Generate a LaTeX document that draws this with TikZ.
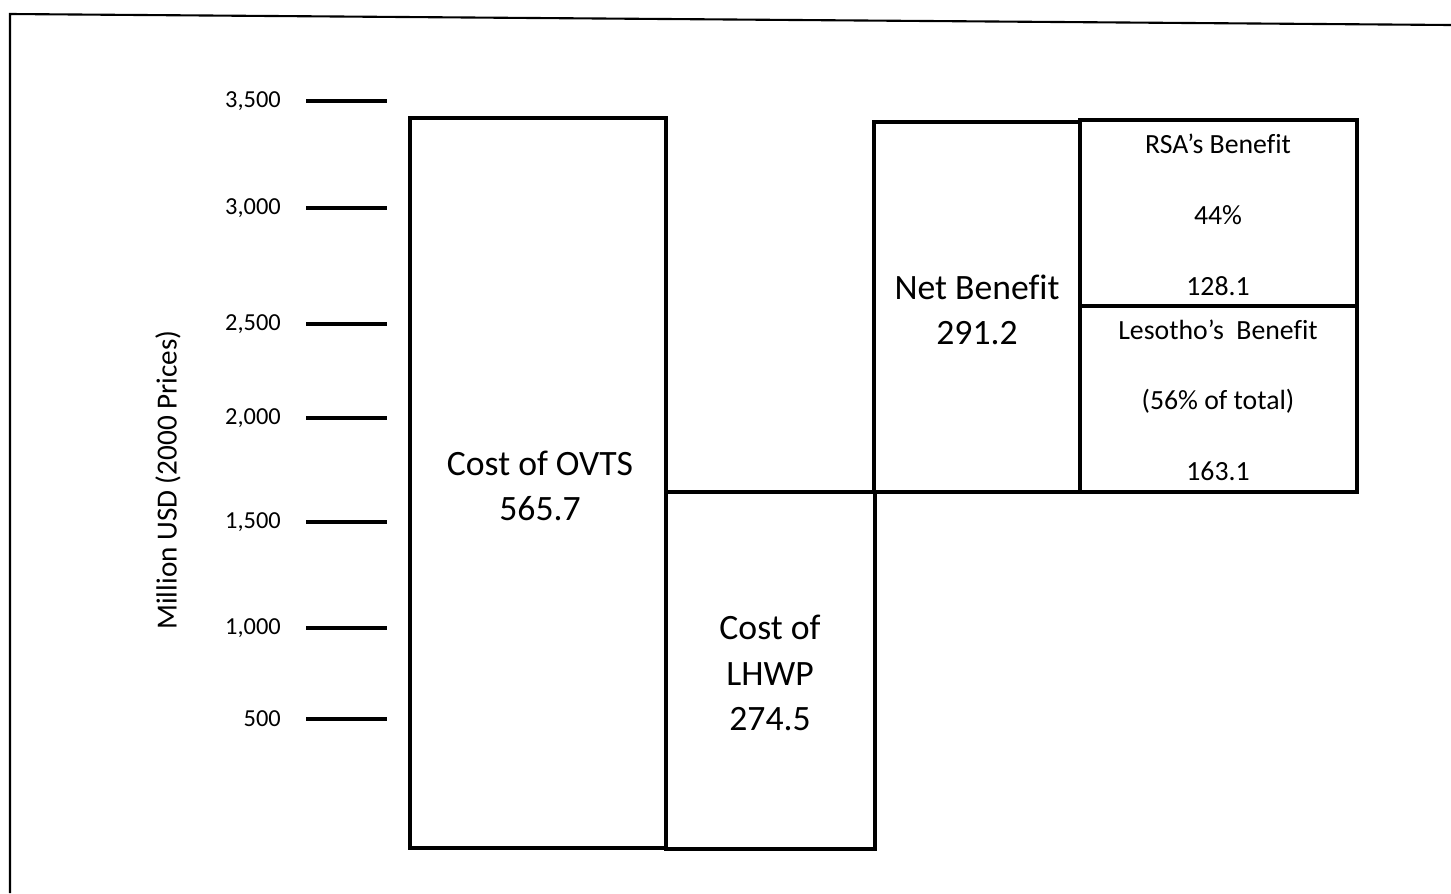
\documentclass[tikz,border=0pt]{standalone}
\usepackage{fontspec}
\setmainfont{Carlito}[Ligatures=NoCommon]
\usetikzlibrary{calc}

\tikzset{
  boxline/.style={line width=2.3pt},
  tickline/.style={line width=2.8pt},
  bigtext/.style={font=\fontsize{20.3}{26}\selectfont, align=center},
  smalltext/.style={font=\fontsize{15.8}{19}\selectfont},
  ticktext/.style={font=\fontsize{13.9}{16}\selectfont, anchor=east}
}

\begin{document}
\begin{tikzpicture}[x=0.02cm,y=-0.02cm]
        \useasboundingbox (0,0) rectangle (1451,893);

        % Frame
        \coordinate (FL) at (10,893);
        \coordinate (FT) at (10,14);
        \coordinate (FR) at (1451,25);
        \draw[line width=1.2pt] (FL) -- (FT) -- (FR);

        % Axis ticks
        \foreach \y/\v [count=\i] in {101/{3,500},208/{3,000},324/{2,500},418/{2,000},522/{1,500},628/{1,000},719/500}
        {
            \draw[tickline] (306,\y) -- (387,\y);
            \node[ticktext] (tick\i) at (287,\y) {\v};
        }

        % Axis label
        \node[rotate=90, font=\fontsize{16.6}{20}\selectfont] (ylab) at (168,480) {Million USD (2000 Prices)};

        % Cost of OVTS
        \coordinate (A) at (410,118);
        \coordinate (B) at (666,848);
        \draw[boxline] (A) rectangle (B);
        \node[bigtext] (ovts) at (540,486) {Cost of OVTS\\565.7};

        % Cost of LHWP
        \coordinate (C) at (666,492);
        \coordinate (D) at (875,849);
        \draw[boxline] (C) rectangle (D);
        \node[bigtext] (lhwp) at (770,673) {Cost of\\LHWP\\274.5};

        % Net Benefit
        \coordinate (E) at (874,122);
        \coordinate (F) at (1080,492);
        \draw[boxline] (E) rectangle (F);
        \node[bigtext] (net) at (977,310) {Net Benefit\\291.2};

        % RSA's Benefit
        \coordinate (G) at (1080,120);
        \coordinate (H) at (1357,306);
        \draw[boxline] (G) rectangle (H);
        \node[smalltext] (rsa) at (1218,144) {RSA’s Benefit};
        \node[smalltext] (rsap) at (1218,215) {44\%};
        \node[smalltext] (rsav) at (1218,286) {128.1};

        % Lesotho's Benefit
        \draw[boxline] (H) rectangle (F);
        \node[smalltext] (les) at (1218,330) {Lesotho’s\ \ Benefit};
        \node[smalltext] (lesp) at (1218,401) {(56\% of total)};
        \node[smalltext] (lesv) at (1218,471) {163.1};
\end{tikzpicture}
\end{document}
